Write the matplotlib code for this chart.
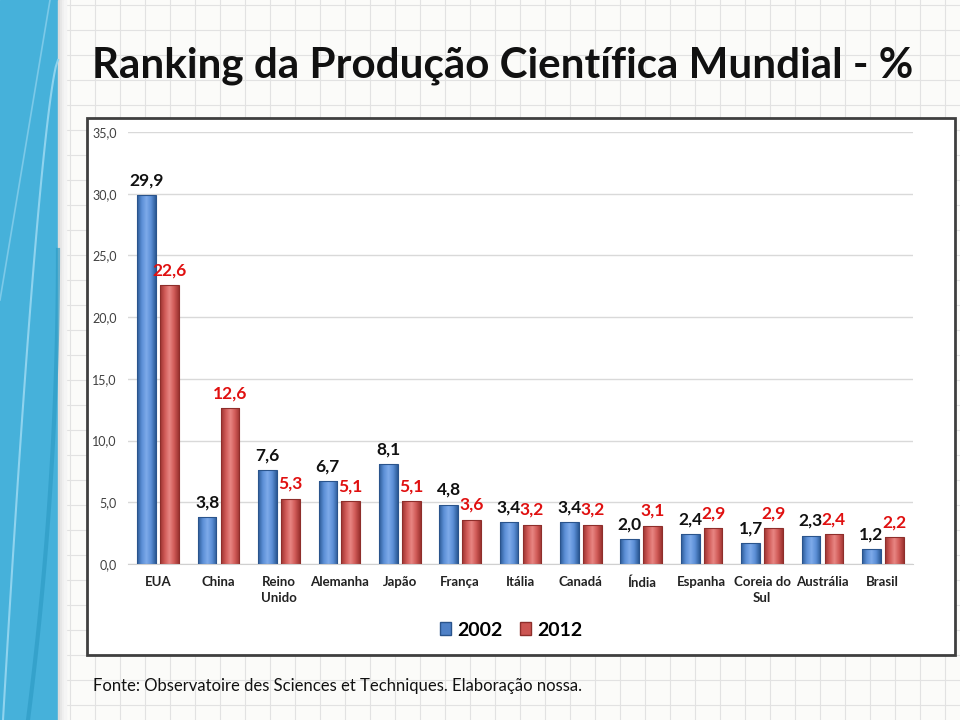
import numpy as np
import matplotlib
matplotlib.use("Agg")
import matplotlib.pyplot as plt
from matplotlib.patches import Rectangle
from matplotlib.colors import LinearSegmentedColormap

# ── Data ──────────────────────────────────────────────────────────────────────

countries = ["EUA", "China", "Reino\nUnido", "Alemanha", "Japão", "França",
             "Itália", "Canadá", "Índia", "Espanha", "Coreia do\nSul",
             "Austrália", "Brasil"]
share_2002 = [29.9, 3.8, 7.6, 6.7, 8.1, 4.8, 3.4, 3.4, 2.0, 2.4, 1.7, 2.3, 1.2]
share_2012 = [22.6, 12.6, 5.3, 5.1, 5.1, 3.6, 3.2, 3.2, 3.1, 2.9, 2.9, 2.4, 2.2]
years = ["2002", "2012"]
y_ticks = [0, 5, 10, 15, 20, 25, 30, 35]

TITLE = "Ranking da Produção Científica Mundial - %"
SOURCE = "Fonte: Observatoire des Sciences et Techniques. Elaboração nossa."

# ── Style ─────────────────────────────────────────────────────────────────────

matplotlib.rcParams.update({
    "font.family": ["Lato", "DejaVu Sans"],
})

BLUE_CMAP = LinearSegmentedColormap.from_list(
    "blue", ["#2c5a96", "#5b8fd6", "#7eaaea", "#5b8fd6", "#2c5a96"])
RED_CMAP = LinearSegmentedColormap.from_list(
    "red", ["#9c3330", "#d05a57", "#e88683", "#d05a57", "#9c3330"])
LABEL_COLOURS = ["#111111", "#e01010"]


def fmt(v):
    return f"{v:.1f}".replace(".", ",")


def gradient_bars(ax, xs, heights, width, cmap, edge):
    bars = ax.bar(xs, heights, width, color="none", edgecolor=edge,
                  linewidth=0.8, zorder=3)
    grad = np.linspace(0, 1, 64).reshape(1, -1)
    for bar in bars:
        x0 = bar.get_x()
        im = ax.imshow(grad, cmap=cmap, aspect="auto", zorder=2,
                       extent=(x0, x0 + bar.get_width(), 0, bar.get_height()))
        im.set_clip_path(bar)
    return bars


fig = plt.figure(figsize=(9.6, 7.2), dpi=100)

# ── Slide background ──────────────────────────────────────────────────────────

bg = fig.add_axes([0, 0, 1, 1], zorder=0)
bg.set_xlim(0, 960)
bg.set_ylim(720, 0)
bg.axis("off")
bg.add_patch(Rectangle((0, 0), 960, 720, color="#fbfbf9", zorder=0))
for gx in range(70, 960, 25):
    bg.plot([gx, gx], [0, 720], color="#e2e2e2", lw=0.8, zorder=1)
for gy in range(5, 720, 25):
    bg.plot([60, 960], [gy, gy], color="#e2e2e2", lw=0.8, zorder=1)

# left decorative band
bg.add_patch(Rectangle((0, 0), 58, 720, color="#46b1da", zorder=2))
for i, c in enumerate(["#dcdcdc", "#e6e6e6", "#efefef", "#f5f5f5"]):
    bg.add_patch(Rectangle((58 + 2 * i, 0), 2, 720, color=c, zorder=2))
t = np.linspace(0, 1, 100)
bg.plot(58 - 55 * t ** 0.7, 60 + 660 * t, color="#8fd3ee", lw=1.5, zorder=3)
bg.plot(50 - 50 * t, 0 + 300 * t, color="#7cc9e8", lw=1.2, zorder=3)
bg.plot(58 - 30 * t ** 2, 250 + 470 * t, color="#2f9cc6", lw=3, alpha=0.7, zorder=3)

# chart box
bg.add_patch(Rectangle((87, 118), 868, 537, facecolor="white",
                       edgecolor="#3f3f3f", lw=2, zorder=4))

bg.text(92, 66, TITLE, fontsize=30.3, fontweight="bold", color="#111111",
        va="center", ha="left", zorder=5)
bg.text(93, 686, SOURCE, fontsize=12, color="#111111",
        va="center", ha="left", zorder=5)

# ── Chart ─────────────────────────────────────────────────────────────────────

ax = fig.add_axes([128 / 960, 1 - 564 / 720, 785 / 960, 432 / 720], zorder=2)
ax.patch.set_alpha(0)

x = np.arange(len(countries))
width = 0.31
off = 0.19

gradient_bars(ax, x - off, share_2002, width, BLUE_CMAP, "#2a548c")
gradient_bars(ax, x + off, share_2012, width, RED_CMAP, "#8e2e2b")

for xi, v in zip(x - off, share_2002):
    ax.text(xi, v + 0.55, fmt(v), ha="center", va="bottom", fontsize=12.5,
            fontweight="bold", color=LABEL_COLOURS[0], zorder=5)
for xi, v in zip(x + off, share_2012):
    ax.text(xi, v + 0.55, fmt(v), ha="center", va="bottom", fontsize=12.5,
            fontweight="bold", color=LABEL_COLOURS[1], zorder=5)

ax.set_xlim(-0.5, len(countries) - 0.5)
ax.set_ylim(0, 35)
ax.set_yticks(y_ticks)
ax.set_yticklabels([fmt(v) for v in y_ticks], fontsize=9, color="#404040")
ax.set_xticks(x)
ax.set_xticklabels(countries, fontsize=9.5, fontweight="bold", color="#222222",
                   linespacing=1.3)
ax.tick_params(axis="both", length=0)
ax.tick_params(axis="y", pad=8)
ax.tick_params(axis="x", pad=9)
ax.grid(axis="y", color="#d9d9d9", lw=1, zorder=0)
ax.set_axisbelow(True)
for side in ["top", "right", "left"]:
    ax.spines[side].set_visible(False)
ax.spines["bottom"].set_color("#d0d0d0")

handles = [Rectangle((0, 0), 1, 1, facecolor="#4f81c7", edgecolor="#2a548c"),
           Rectangle((0, 0), 1, 1, facecolor="#cc5552", edgecolor="#8e2e2b")]
fig.legend(handles, years, loc="center", bbox_to_anchor=(511 / 960, 1 - 630 / 720),
           ncol=2, frameon=False, prop={"size": 14, "weight": "bold"},
           handlelength=0.6, handleheight=0.6, handletextpad=0.3,
           columnspacing=0.9)

fig.savefig("out.png", dpi=100)
